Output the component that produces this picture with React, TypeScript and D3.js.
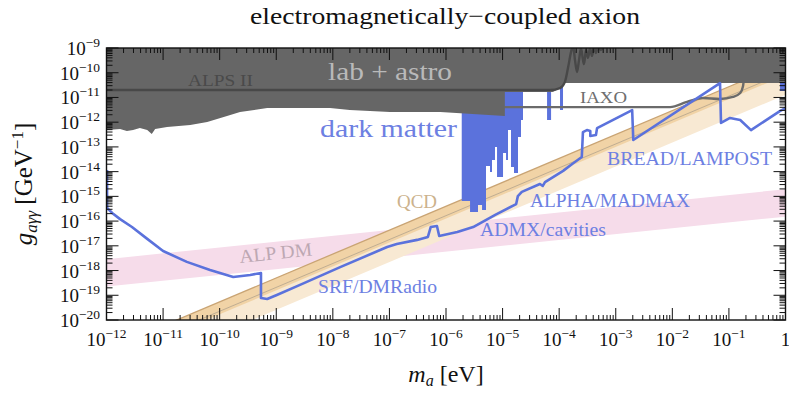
import React from 'react';
import * as d3 from 'd3';

// all points are [log10(m_a / eV), log10(g / GeV^-1)]
type P = [number, number];

const xTickExps = [-12, -11, -10, -9, -8, -7, -6, -5, -4, -3, -2, -1, 0];
const yTickExps = [-20, -19, -18, -17, -16, -15, -14, -13, -12, -11, -10, -9];

// lower edge of the "lab + astro" excluded region
const labAstroEdge: P[] = [
  [-12, -12.32], [-11.76, -12.28], [-11.64, -12.36], [-11.53, -12.32], [-11.41, -12.24],
  [-11.28, -12.32], [-11.2, -12.48], [-11.14, -12.28], [-10.93, -12.19], [-10.52, -12.11],
  [-10.22, -11.99], [-9.87, -11.75], [-9.64, -11.59], [-9.16, -11.43], [-8.05, -11.43],
  [-7.7, -11.51], [-6.99, -11.59], [-6.1, -11.59], [-4.96, -11.75], [-4.96, -10.78],
  [-4.11, -10.78], [-3.98, -10.62], [-3.9, -10.42], [0, -10.42],
];

// haloscope dark matter limits (filled)
const haloscopes: P[] = [
  [-5.722, -10.3], [-5.722, -15.19], [-5.575, -15.19], [-5.575, -15.63], [-5.434, -15.63],
  [-5.434, -15.35], [-5.363, -15.35], [-5.363, -15.55], [-5.293, -15.55], [-5.293, -13.77],
  [-5.222, -13.77], [-5.222, -14.01], [-5.187, -14.01], [-5.187, -13.53], [-5.134, -13.53],
  [-5.134, -13.0], [-5.098, -13.0], [-5.098, -14.22], [-4.992, -14.22], [-4.992, -13.25],
  [-4.939, -13.25], [-4.939, -13.53], [-4.904, -13.53], [-4.904, -12.32], [-4.851, -12.32],
  [-4.851, -13.81], [-4.798, -13.81], [-4.798, -14.06], [-4.727, -14.06], [-4.727, -12.6],
  [-4.674, -12.6], [-4.674, -11.91], [-4.639, -11.91], [-4.639, -10.3],
];
const haloSpikeA: P[] = [[-4.214, -10.3], [-4.214, -11.91], [-4.143, -11.91], [-4.143, -10.3]];
const haloSpikeB: P[] = [[-3.985, -10.3], [-3.985, -11.51], [-3.932, -11.51], [-3.932, -10.3]];
const haloSpikeC: P[] = [[-0.097, -10.3], [-0.097, -10.74], [0, -10.74], [0, -10.3]];

// combined future dark matter projections
const projection: P[] = [
  [-11.99, -13.93], [-11.99, -15.47], [-11.9, -15.67], [-11.76, -15.92], [-11.55, -16.24],
  [-11.28, -16.72], [-11.0, -17.21], [-10.58, -17.65], [-10.17, -17.98], [-9.76, -18.26],
  [-9.46, -18.18], [-9.27, -18.1], [-9.27, -19.11], [-9.16, -19.15], [-8.99, -18.99],
  [-8.58, -18.58], [-7.87, -17.86], [-7.04, -17.05], [-6.87, -16.93], [-6.51, -16.76],
  [-6.32, -16.64], [-6.27, -16.24], [-6.16, -16.2], [-6.12, -16.6], [-5.8, -16.44],
  [-5.52, -16.24], [-5.13, -15.75], [-4.76, -15.31], [-4.73, -14.99], [-4.66, -14.82],
  [-4.34, -14.5], [-4.29, -14.58], [-4.25, -14.42], [-3.93, -13.97], [-3.77, -13.69],
  [-3.6, -13.41], [-3.58, -12.4], [-3.51, -12.32], [-3.45, -12.36], [-3.45, -12.56],
  [-3.35, -12.52], [-3.33, -12.24], [-2.71, -11.51], [-2.69, -12.72], [-1.157, -10.42],
  [-1.14, -12.03], [-0.98, -11.83], [-0.8, -11.91], [-0.61, -12.32], [-0.1, -11.55], [0, -11.43],
];

const alpsII: P[] = [
  [-12, -10.7], [-4.16, -10.7], [-3.985, -10.62], [-3.9, -10.38], [-3.844, -9.81],
  [-3.79, -9.16], [-3.755, -8.9], [-3.72, -9.49], [-3.685, -9.97], [-3.649, -9.49],
  [-3.614, -9.0], [-3.579, -9.49], [-3.561, -9.65], [-3.526, -9.08], [-3.49, -9.4],
  [-3.455, -9.0], [-3.42, -9.32], [-3.384, -8.96], [-3.349, -9.2], [-3.314, -8.95],
  [-3.261, -9.08], [-3.207, -8.88],
];

const iaxo: P[] = [
  [-5.6, -11.39], [-2.04, -11.39], [-1.74, -11.18], [-1.46, -11.02], [-1.16, -11.06],
  [-0.93, -10.98], [-0.8, -10.82], [-0.75, -10.54], [-0.73, -10.09],
];

const qcdUpper: P[] = [[-12, -21.2], [0, -9.6]];
const qcdCentral: P[] = [[-12, -21.58], [0, -9.98]];
const qcdDarkLower: P[] = [[-12, -21.7], [0, -10.1]];
const qcdLightLower: P[] = [[-12, -22.49], [0, -10.89]];

const alpDmTop: P[] = [[-12, -17.54], [0, -14.71]];
const alpDmBottom: P[] = [[-12, -18.65], [0, -15.82]];

const W = 789;
const H = 394;
const left = 106.5, right = 785.5, top = 48, bottom = 320;
const serif = '"Liberation Serif", "DejaVu Serif", serif';
const blue = '#5b72dc';
const blueText = '#6d80e2';

function Label({ x, y, w, size, fill, children, transform }: any) {
  return (
    <text x={x} y={y} fontSize={size} fill={fill} textLength={w} lengthAdjust="spacingAndGlyphs" transform={transform}>
      {children}
    </text>
  );
}

export default function App() {
  const x = d3.scaleLog().domain([1e-12, 1]).range([left, right]);
  const y = d3.scaleLog().domain([1e-20, 1e-9]).range([bottom, top]);
  const px = (p: P): [number, number] => [x(10 ** p[0]), y(10 ** p[1])];
  const line = d3.line<P>().x((p) => px(p)[0]).y((p) => px(p)[1]);
  const smooth = d3.line<P>().x((p) => px(p)[0]).y((p) => px(p)[1]).curve(d3.curveMonotoneX);
  const band = (a: P[], b: P[]) => line([...a, ...b.slice().reverse()]) + 'Z';
  const grayArea = line([[-12, -8.5], ...labAstroEdge, [0, -8.5]]) + 'Z';

  const minorX: number[] = [];
  xTickExps.slice(0, -1).forEach((e) => d3.range(2, 10).forEach((k) => minorX.push(k * 10 ** e)));
  const minorY: number[] = [];
  yTickExps.slice(0, -1).forEach((e) => d3.range(2, 10).forEach((k) => minorY.push(k * 10 ** e)));

  const alpAngle = (Math.atan2(px(alpDmTop[1])[1] - px(alpDmTop[0])[1], right - left) * 180) / Math.PI;

  return (
    <svg width={W} height={H} style={{ position: 'absolute', left: 0, top: 0, background: '#fff', fontFamily: serif }}>
      <defs>
        <clipPath id="plot">
          <rect x={left} y={top} width={right - left} height={bottom - top} />
        </clipPath>
      </defs>
      <Label x={250} y={24} w={390} size={24} fill="#111">electromagnetically−coupled axion</Label>

      <g clipPath="url(#plot)">
        <path d={band(alpDmTop, alpDmBottom)} fill="#f6dcea" />
        <path d={band(qcdUpper, qcdLightLower)} fill="#f8e9d3" />
        <path d={band(qcdUpper, qcdDarkLower)} fill="#f1d3a6" />
        <path d={line(qcdUpper) || ''} fill="none" stroke="#c9a474" strokeWidth={1.3} />
        <path d={line(qcdCentral) || ''} fill="none" stroke="#b3a38d" strokeWidth={0.8} />
        {[haloscopes, haloSpikeA, haloSpikeB, haloSpikeC].map((h, i) => (
          <path key={i} d={line(h) + 'Z'} fill={blue} />
        ))}
        <path d={smooth(iaxo) || ''} fill="none" stroke="#6b6b6b" strokeWidth={2.4} />
        <path d={grayArea} fill="#666666" />
        <path d={smooth(alpsII) || ''} fill="none" stroke="#484848" strokeWidth={2.4} />
        <path d={line(projection) || ''} fill="none" stroke={blue} strokeWidth={2.6} strokeLinejoin="round" />
      </g>

      <Label x={328} y={80} w={124} size={26} fill="#b9b9b9">lab + astro</Label>
      <Label x={188} y={86} w={65} size={17} fill="#4a4a4a">ALPS II</Label>
      <Label x={580} y={103} w={47} size={17} fill="#6e6e6e">IAXO</Label>
      <Label x={320} y={137} w={137} size={26} fill={blueText}>dark matter</Label>
      <Label x={607} y={165} w={165} size={19} fill={blueText}>BREAD/LAMPOST</Label>
      <Label x={530} y={207} w={160} size={19} fill={blueText}>ALPHA/MADMAX</Label>
      <Label x={480} y={236} w={126} size={19} fill={blueText}>ADMX/cavities</Label>
      <Label x={318} y={293} w={119} size={19} fill={blueText}>SRF/DMRadio</Label>
      <Label x={397} y={208} w={40} size={19} fill="#ccb28c">QCD</Label>
      <Label x={240} y={263} w={73} size={19} fill="#bda8b3" transform={`rotate(${alpAngle} 240 263)`}>ALP DM</Label>

      {/* frame and ticks */}
      <rect x={left} y={top} width={right - left} height={bottom - top} fill="none" stroke="#111" strokeWidth={1.4} />
      <g stroke="#111" strokeWidth={1}>
        {xTickExps.map((e) => (
          <g key={'xM' + e}>
            <line x1={x(10 ** e)} x2={x(10 ** e)} y1={bottom} y2={bottom - 12} />
            <line x1={x(10 ** e)} x2={x(10 ** e)} y1={top} y2={top + 12} />
          </g>
        ))}
        {minorX.map((v, i) => (
          <g key={'xm' + i}>
            <line x1={x(v)} x2={x(v)} y1={bottom} y2={bottom - 5} />
            <line x1={x(v)} x2={x(v)} y1={top} y2={top + 5} />
          </g>
        ))}
        {yTickExps.map((e) => (
          <g key={'yM' + e}>
            <line x1={left} x2={left + 12} y1={y(10 ** e)} y2={y(10 ** e)} />
            <line x1={right} x2={right - 12} y1={y(10 ** e)} y2={y(10 ** e)} />
          </g>
        ))}
        {minorY.map((v, i) => (
          <g key={'ym' + i}>
            <line x1={left} x2={left + 6} y1={y(v)} y2={y(v)} />
            <line x1={right} x2={right - 6} y1={y(v)} y2={y(v)} />
          </g>
        ))}
      </g>

      <g fill="#111" fontSize={19}>
        {xTickExps.map((e) =>
          e === 0 ? (
            <text key={'xl' + e} x={x(1)} y={346} textAnchor="middle">1</text>
          ) : (
            <text key={'xl' + e} x={x(10 ** e)} y={346} textAnchor="middle">
              10<tspan fontSize={13.5} dy={-8}>−{-e}</tspan>
            </text>
          )
        )}
        {yTickExps.map((e) => (
          <text key={'yl' + e} x={100} y={y(10 ** e) + 7} textAnchor="end">
            10<tspan fontSize={13.5} dy={-8}>−{-e}</tspan>
          </text>
        ))}
      </g>

      <text transform="translate(32,184) rotate(-90)" textAnchor="middle" fontSize={25} fill="#111">
        <tspan fontStyle="italic">g</tspan>
        <tspan fontStyle="italic" fontSize={17} dy={5}>aγγ</tspan>
        <tspan dy={-5}>{'  [GeV'}</tspan>
        <tspan fontSize={17} dy={-9}>−1</tspan>
        <tspan dy={9}>]</tspan>
      </text>
      <text x={446} y={382} textAnchor="middle" fontSize={24} fill="#111">
        <tspan fontStyle="italic">m</tspan>
        <tspan fontStyle="italic" fontSize={16} dy={4}>a</tspan>
        <tspan dy={-4}>{'  [eV]'}</tspan>
      </text>
    </svg>
  );
}
